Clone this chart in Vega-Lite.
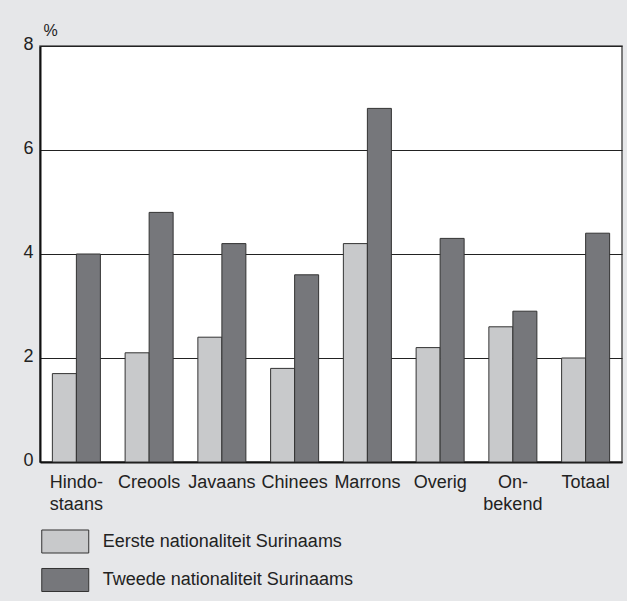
{
  "$schema": "https://vega.github.io/schema/vega-lite/v6.json",
  "autosize": {"type": "none"},
  "width": 582,
  "height": 416,
  "padding": {"left": 40, "top": 46, "right": 5, "bottom": 139},
  "background": "#e6e7e9",
  "config": {
    "font": "Liberation Sans",
    "view": {"fill": "white", "stroke": "#555", "strokeWidth": 1.5}
  },
  "data": {
    "values": [
      {"groep": "Hindostaans", "reeks": "Eerste nationaliteit Surinaams", "pct": 1.7},
      {"groep": "Hindostaans", "reeks": "Tweede nationaliteit Surinaams", "pct": 4.0},
      {"groep": "Creools", "reeks": "Eerste nationaliteit Surinaams", "pct": 2.1},
      {"groep": "Creools", "reeks": "Tweede nationaliteit Surinaams", "pct": 4.8},
      {"groep": "Javaans", "reeks": "Eerste nationaliteit Surinaams", "pct": 2.4},
      {"groep": "Javaans", "reeks": "Tweede nationaliteit Surinaams", "pct": 4.2},
      {"groep": "Chinees", "reeks": "Eerste nationaliteit Surinaams", "pct": 1.8},
      {"groep": "Chinees", "reeks": "Tweede nationaliteit Surinaams", "pct": 3.6},
      {"groep": "Marrons", "reeks": "Eerste nationaliteit Surinaams", "pct": 4.2},
      {"groep": "Marrons", "reeks": "Tweede nationaliteit Surinaams", "pct": 6.8},
      {"groep": "Overig", "reeks": "Eerste nationaliteit Surinaams", "pct": 2.2},
      {"groep": "Overig", "reeks": "Tweede nationaliteit Surinaams", "pct": 4.3},
      {"groep": "Onbekend", "reeks": "Eerste nationaliteit Surinaams", "pct": 2.6},
      {"groep": "Onbekend", "reeks": "Tweede nationaliteit Surinaams", "pct": 2.9},
      {"groep": "Totaal", "reeks": "Eerste nationaliteit Surinaams", "pct": 2.0},
      {"groep": "Totaal", "reeks": "Tweede nationaliteit Surinaams", "pct": 4.4}
    ]
  },
  "mark": {"type": "bar", "stroke": "#333", "strokeWidth": 1},
  "encoding": {
    "x": {
      "field": "groep",
      "type": "nominal",
      "sort": null,
      "scale": {"paddingInner": 0.34, "paddingOuter": 0.17},
      "axis": {
        "title": null,
        "labelAngle": 0,
        "labelFontSize": 18,
        "labelColor": "#222",
        "labelLineHeight": 22,
        "labelPadding": 11,
        "labelBaseline": "top",
        "ticks": false,
        "domainColor": "#111",
        "domainWidth": 2,
        "labelExpr": "datum.value == 'Hindostaans' ? ['Hindo-', 'staans'] : datum.value == 'Onbekend' ? ['On-', 'bekend'] : datum.label"
      }
    },
    "xOffset": {"field": "reeks", "type": "nominal", "scale": {"paddingInner": 0, "paddingOuter": 0}},
    "y": {
      "field": "pct",
      "type": "quantitative",
      "scale": {"domain": [0, 8]},
      "axis": {
        "values": [0, 2, 4, 6, 8],
        "title": "%",
        "titleAngle": 0,
        "titleAlign": "left",
        "titleBaseline": "alphabetic",
        "titleX": 3,
        "titleY": -11,
        "titleFontSize": 16,
        "titleFontWeight": "normal",
        "titleColor": "#222",
        "labelFontSize": 18,
        "labelColor": "#222",
        "labelPadding": 7,
        "labelOffset": -2,
        "ticks": false,
        "domainColor": "#111",
        "domainWidth": 2,
        "gridColor": "#222",
        "gridWidth": 1.2
      }
    },
    "color": {
      "field": "reeks",
      "type": "nominal",
      "scale": {
        "domain": ["Eerste nationaliteit Surinaams", "Tweede nationaliteit Surinaams"],
        "range": ["#c8c9cb", "#76777b"]
      },
      "legend": {
        "title": null,
        "orient": "none",
        "legendX": 12.75,
        "legendY": 483,
        "symbolType": "M-2,-0.98H2V0.98H-2Z",
        "symbolSize": 552,
        "symbolStrokeColor": "#333",
        "symbolStrokeWidth": 1,
        "symbolOpacity": 1,
        "labelFontSize": 18,
        "labelColor": "#222",
        "labelOffset": 25,
        "rowPadding": 9.5,
        "labelLimit": 400
      }
    }
  }
}
